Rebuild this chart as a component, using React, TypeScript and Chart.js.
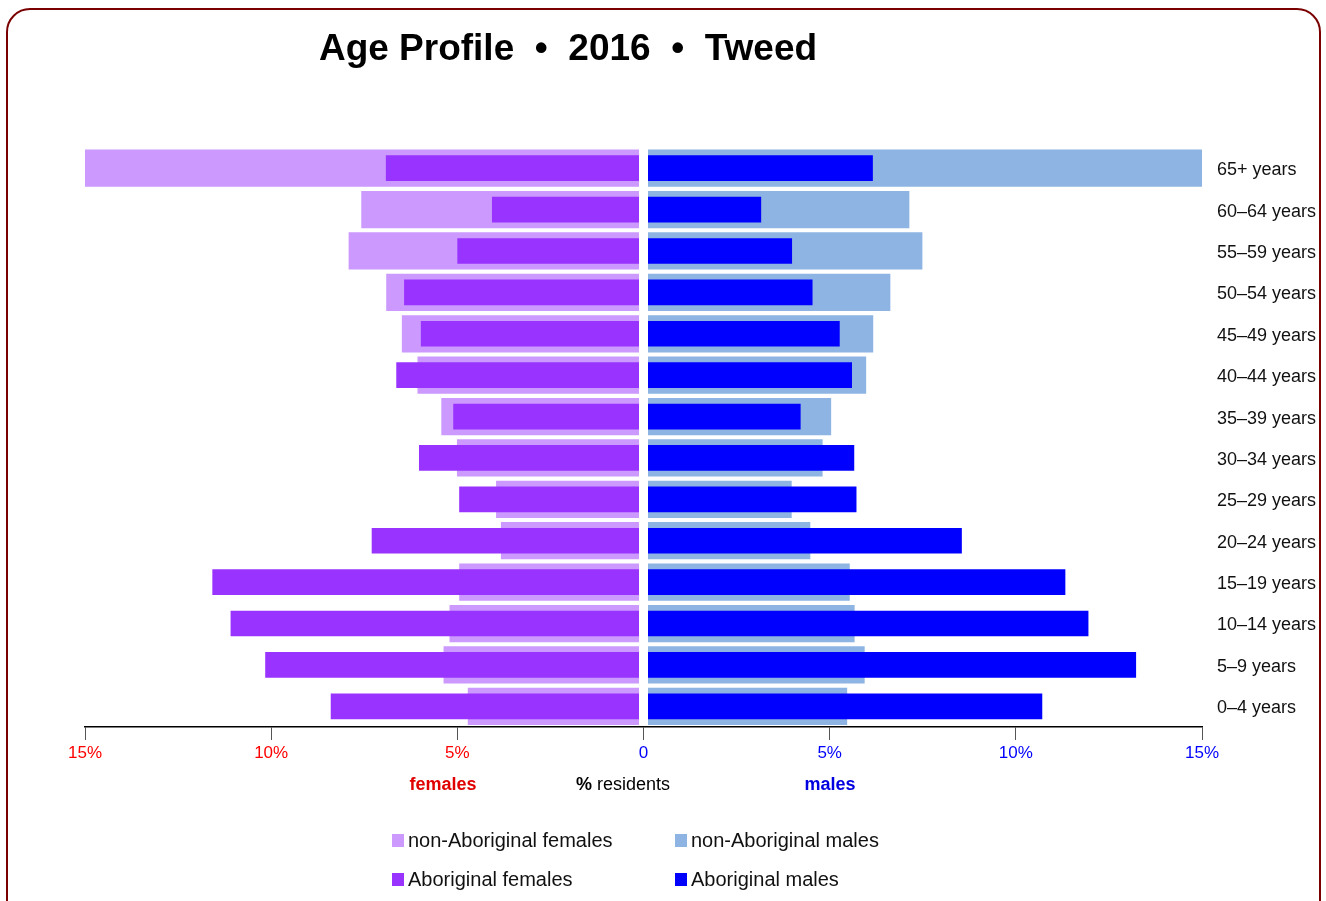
import React, { useEffect, useRef } from "react";
import { Chart, registerables } from "chart.js";

Chart.register(...registerables);

const ageGroups = [
  "65+ years", "60–64 years", "55–59 years", "50–54 years", "45–49 years",
  "40–44 years", "35–39 years", "30–34 years", "25–29 years", "20–24 years",
  "15–19 years", "10–14 years", "5–9 years", "0–4 years",
];
const nonAboriginalFemales = [15.0, 7.58, 7.92, 6.91, 6.49, 6.07, 5.43, 5.01, 3.96, 3.83, 4.95, 5.21, 5.37, 4.72];
const aboriginalFemales = [6.92, 4.07, 5.0, 6.43, 5.98, 6.64, 5.11, 6.03, 4.95, 7.3, 11.58, 11.09, 10.16, 8.4];
const nonAboriginalMales = [15.0, 7.14, 7.49, 6.63, 6.17, 5.98, 5.04, 4.81, 3.98, 4.48, 5.54, 5.67, 5.94, 5.47];
const aboriginalMales = [6.16, 3.16, 3.99, 4.54, 5.27, 5.6, 4.22, 5.66, 5.72, 8.55, 11.33, 11.95, 13.23, 10.71];
const xTickValues = [-15, -10, -5, 0, 5, 10, 15];

const COLORS = {
  nonAbF: "#CC99FF",
  abF: "#9933FF",
  nonAbM: "#8DB4E2",
  abM: "#0000FF",
};

const FONT = '"Liberation Sans", Arial, Helvetica, sans-serif';

const centerGap = {
  id: "centerGap",
  afterDatasetsDraw(chart: any) {
    const { ctx, chartArea, scales } = chart;
    const x0 = scales.x.getPixelForValue(0);
    ctx.save();
    ctx.fillStyle = "#ffffff";
    ctx.fillRect(x0 - 4.5, chartArea.top - 2, 9, chartArea.bottom - chartArea.top + 1);
    ctx.restore();
  },
};

function ChartView() {
  const ref = useRef<HTMLCanvasElement | null>(null);
  useEffect(() => {
    if (!ref.current) return;
    const chart = new Chart(ref.current, {
      type: "bar",
      data: {
        labels: ageGroups,
        datasets: [
          { label: "non-Aboriginal females", data: nonAboriginalFemales.map((v) => -v), backgroundColor: COLORS.nonAbF, barPercentage: 0.9, categoryPercentage: 1, order: 2, grouped: false } as any,
          { label: "non-Aboriginal males", data: nonAboriginalMales, backgroundColor: COLORS.nonAbM, barPercentage: 0.9, categoryPercentage: 1, order: 2, grouped: false } as any,
          { label: "Aboriginal females", data: aboriginalFemales.map((v) => -v), backgroundColor: COLORS.abF, barPercentage: 0.62, categoryPercentage: 1, order: 1, grouped: false } as any,
          { label: "Aboriginal males", data: aboriginalMales, backgroundColor: COLORS.abM, barPercentage: 0.62, categoryPercentage: 1, order: 1, grouped: false } as any,
        ],
      },
      options: {
        indexAxis: "y",
        animation: false,
        responsive: true,
        maintainAspectRatio: false,
        layout: { padding: { left: 85, top: 147.5, right: 1, bottom: 0 } },
        plugins: {
          legend: { display: false },
          title: { display: false },
          tooltip: { enabled: false },
        },
        scales: {
          x: {
            type: "linear",
            min: -15,
            max: 15,
            afterBuildTicks: (scale: any) => {
              scale.ticks = xTickValues.map((v) => ({ value: v }));
            },
            afterFit: (scale: any) => {
              scale.height = 174;
            },
            grid: { display: true, drawOnChartArea: false, drawTicks: true, tickLength: 13, color: "#555555", lineWidth: 1 },
            border: { display: true, color: "#000000", width: 1.5 },
            ticks: {
              padding: 3,
              font: { family: FONT, size: 17 },
              color: (ctx: any) => (ctx.tick && ctx.tick.value < 0 ? "#FF0000" : "#0000FF"),
              callback: (v: any) => (Number(v) === 0 ? "0" : Math.abs(Number(v)) + "%"),
            },
          },
          y: {
            type: "category",
            position: "right",
            afterFit: (scale: any) => {
              scale.width = 123;
            },
            grid: { display: false, drawTicks: false },
            border: { display: false },
            ticks: {
              padding: 15,
              labelOffset: 2,
              font: { family: FONT, size: 18 },
              color: "#111111",
            },
          },
        },
      } as any,
      plugins: [centerGap],
    });
    return () => chart.destroy();
  }, []);
  return <canvas ref={ref} />;
}

const txt = (fs: number, baseline: number): React.CSSProperties => ({
  position: "absolute",
  fontFamily: FONT,
  fontSize: fs,
  lineHeight: fs + "px",
  top: baseline - 0.8465 * fs,
  whiteSpace: "pre",
});

export default function App() {
  const legendItems = [
    { label: "non-Aboriginal females", color: COLORS.nonAbF, x: 392, baseline: 847 },
    { label: "non-Aboriginal males", color: COLORS.nonAbM, x: 675, baseline: 847 },
    { label: "Aboriginal females", color: COLORS.abF, x: 392, baseline: 886 },
    { label: "Aboriginal males", color: COLORS.abM, x: 675, baseline: 886 },
  ];
  return (
    <div style={{ position: "fixed", left: 0, top: 0, width: 1326, height: 901, overflow: "hidden", background: "#fff" }}>
      <div
        style={{
          position: "absolute",
          left: 6,
          top: 8,
          width: 1315,
          height: 1000,
          border: "2px solid #7a0000",
          borderRadius: 24,
          boxSizing: "border-box",
        }}
      />
      <div style={{ position: "absolute", left: 0, top: 0, width: 1326, height: 901 }}>
        <ChartView />
      </div>
      <div style={{ ...txt(37, 60), left: 568, transform: "translateX(-50%)", fontWeight: "bold", color: "#000" }}>
        {"Age Profile  •  2016  •  Tweed"}
      </div>
      <div style={{ ...txt(18, 790), left: 443, transform: "translateX(-50%)", fontWeight: "bold", color: "#E00000" }}>females</div>
      <div style={{ ...txt(18, 790), left: 623, transform: "translateX(-50%)", color: "#000" }}>
        <b>%</b> residents
      </div>
      <div style={{ ...txt(18, 790), left: 830, transform: "translateX(-50%)", fontWeight: "bold", color: "#0000E0" }}>males</div>
      {legendItems.map((it) => (
        <React.Fragment key={it.label}>
          <div style={{ position: "absolute", left: it.x, top: it.baseline - 13, width: 12, height: 13, background: it.color }} />
          <div style={{ ...txt(20, it.baseline), left: it.x + 16, color: "#111" }}>{it.label}</div>
        </React.Fragment>
      ))}
    </div>
  );
}
